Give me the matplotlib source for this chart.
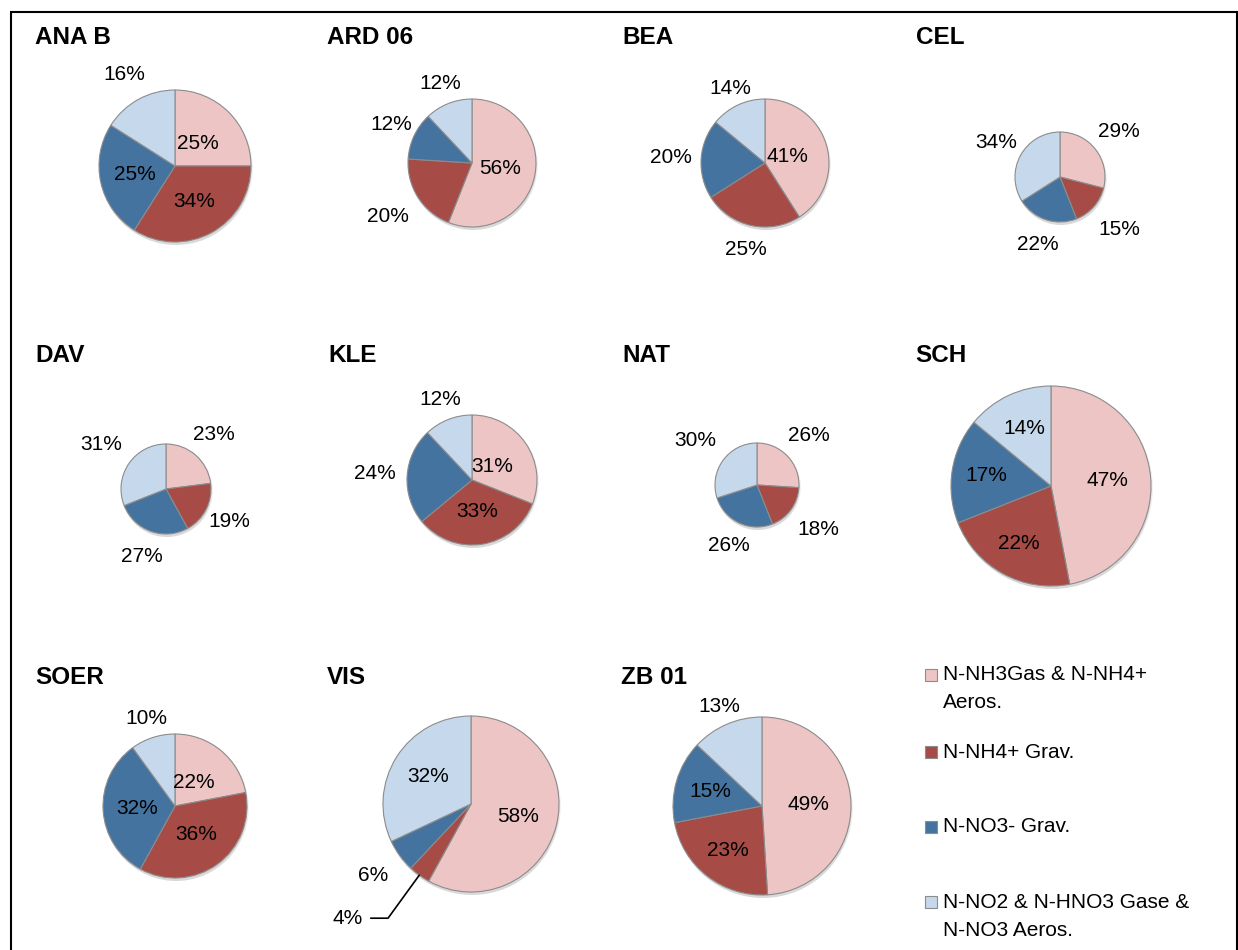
import matplotlib
matplotlib.use('Agg')
import numpy as np
import matplotlib.pyplot as plt
from matplotlib import font_manager
from matplotlib.patches import Circle, Rectangle

# Share of each N component per site (%)
sites = ['ANA B', 'ARD 06', 'BEA', 'CEL', 'DAV', 'KLE', 'NAT', 'SCH', 'SOER', 'VIS', 'ZB 01']
nh3_gas_nh4_aeros = [25, 56, 41, 29, 23, 31, 26, 47, 22, 58, 49]
nh4_grav = [34, 20, 25, 15, 19, 33, 18, 22, 36, 4, 23]
no3_grav = [25, 12, 20, 22, 27, 24, 26, 17, 32, 6, 15]
no2_hno3_no3_aeros = [16, 12, 14, 34, 31, 12, 30, 14, 10, 32, 13]
components = ['N-NH3Gas & N-NH4+\nAeros.', 'N-NH4+ Grav.', 'N-NO3- Grav.',
              'N-NO2 & N-HNO3 Gase &\nN-NO3 Aeros.']
colors = ['#ECC5C4', '#A64B45', '#45739F', '#C6D8EB']

# Layout in pixels (origin top left)
W, H = 1238, 950
centers = [(175, 166), (472, 163), (765, 163), (1060, 177),
           (166, 489), (472, 480), (757, 485), (1051, 486),
           (175, 806), (471, 804), (762, 806)]
radii = [76, 64, 64, 45, 45, 65, 42, 100, 72, 88, 89]
title_pos = [(35, 38), (327, 38), (622, 38), (916, 38),
             (35, 355), (328, 355), (622, 355), (915, 355),
             (35, 678), (327, 678), (621, 678)]
# label distance from centre, in radii (None = label with leader line)
label_dist = [[0.42, 0.53, 0.54, 1.38],
              [0.44, 1.55, 1.40, 1.33],
              [0.36, 1.38, 1.47, 1.28],
              [1.65, 1.75, 1.58, 1.61],
              [1.62, 1.58, 1.59, 1.74],
              [0.37, 0.49, 1.49, 1.34],
              [1.71, 1.81, 1.60, 1.82],
              [0.57, 0.66, 0.65, 0.63],
              [0.42, 0.49, 0.53, 1.28],
              [0.55, None, 1.38, 0.58],
              [0.52, 0.63, 0.60, 1.22]]
legend_y = [675, 752, 827, 902]
legend_line_step = 28

names = {f.name for f in font_manager.fontManager.ttflist}
if 'Liberation Sans Narrow' in names:
    family, label_size, title_size = 'Liberation Sans Narrow', 16, 19
else:
    family, label_size, title_size = 'Liberation Sans', 15, 17.5
plt.rcParams['font.family'] = [family, 'DejaVu Sans']

fig = plt.figure(figsize=(W / 100, H / 100), dpi=100)
ax = fig.add_axes([0, 0, 1, 1])

shares = np.array([nh3_gas_nh4_aeros, nh4_grav, no3_grav, no2_hno3_no3_aeros]).T

for i, site in enumerate(sites):
    cx, cy = centers[i][0], H - centers[i][1]
    r = radii[i]
    # soft drop shadow
    for k, off in enumerate([2, 3, 4]):
        ax.add_patch(Circle((cx + 1, cy - off), r + 1 - k, facecolor='black',
                            alpha=0.05, edgecolor='none', zorder=1))
    wedges, _ = ax.pie(shares[i], colors=colors, startangle=90, counterclock=False,
                       center=(cx, cy), radius=r, frame=True,
                       wedgeprops=dict(edgecolor='#8c8c8c', linewidth=0.8, zorder=2))
    for j, w in enumerate(wedges):
        w.set_zorder(2)
        mid = np.deg2rad((w.theta1 + w.theta2) / 2)
        txt = f'{shares[i][j]}%'
        d = label_dist[i][j]
        if d is None:
            ax.annotate(txt, xy=(cx + r * np.cos(mid), cy + r * np.sin(mid)),
                        xytext=(-72, -43), textcoords='offset pixels',
                        ha='center', va='center', fontsize=label_size, zorder=4,
                        arrowprops=dict(arrowstyle='-', color='black', lw=1.2,
                                        connectionstyle='angle,angleA=0,angleB=54',
                                        shrinkA=4, shrinkB=0))
        else:
            ax.text(cx + d * r * np.cos(mid), cy + d * r * np.sin(mid), txt,
                    ha='center', va='center', fontsize=label_size, zorder=4)
    tx, ty = title_pos[i]
    ax.text(tx, H - ty, site, ha='left', va='center', fontsize=title_size,
            fontweight='bold')

# legend
for k, lab in enumerate(components):
    y = H - legend_y[k]
    ax.add_patch(Rectangle((925, y - 6), 12, 12, facecolor=colors[k],
                           edgecolor='#8c8c8c', linewidth=0.8))
    for n, line in enumerate(lab.split('\n')):
        ax.text(943, y - n * legend_line_step, line, ha='left', va='center',
                fontsize=label_size)

# outer frame
ax.add_patch(Rectangle((11, -30), 1226, H - 12 + 30, facecolor='none',
                       edgecolor='black', linewidth=1.5, zorder=5))

ax.set_xlim(0, W)
ax.set_ylim(0, H)
ax.set_aspect('equal')
ax.axis('off')

fig.savefig('out.png', dpi=100)
